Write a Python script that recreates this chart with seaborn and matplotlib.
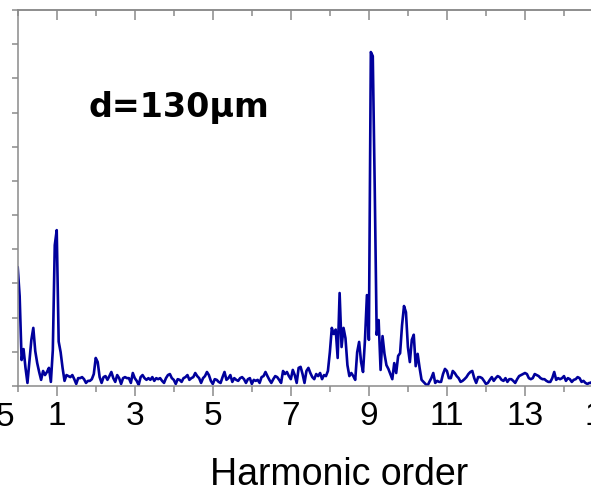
import numpy as np
import pandas as pd
import seaborn as sns
import matplotlib.pyplot as plt
from matplotlib.ticker import MultipleLocator

# data: harmonic spectrum, sampled every 0.05 harmonic order
harmonic = np.round(np.arange(301) * 0.05, 2)
intensity = [
    0.348, 0.263, 0.076, 0.108, 0.053, 0.009, 0.073, 0.135, 0.170, 0.102, 0.067, 0.041, 0.018, 0.044, 0.032, 0.041, 0.053, 0.012, 0.105, 0.412,
    0.456, 0.130, 0.099, 0.053, 0.015, 0.032, 0.029, 0.026, 0.032, 0.020, 0.006, 0.023, 0.023, 0.026, 0.020, 0.009, 0.015, 0.015, 0.020, 0.035,
    0.082, 0.070, 0.026, 0.009, 0.026, 0.029, 0.018, 0.029, 0.041, 0.023, 0.012, 0.032, 0.023, 0.006, 0.023, 0.026, 0.023, 0.023, 0.009, 0.038,
    0.023, 0.015, 0.003, 0.026, 0.032, 0.023, 0.018, 0.023, 0.018, 0.026, 0.015, 0.023, 0.020, 0.023, 0.015, 0.009, 0.023, 0.032, 0.035, 0.023,
    0.018, 0.006, 0.020, 0.018, 0.012, 0.023, 0.026, 0.032, 0.018, 0.023, 0.026, 0.038, 0.029, 0.023, 0.009, 0.023, 0.029, 0.041, 0.032, 0.015,
    0.006, 0.020, 0.018, 0.012, 0.009, 0.026, 0.041, 0.018, 0.023, 0.032, 0.012, 0.023, 0.018, 0.015, 0.023, 0.026, 0.020, 0.009, 0.020, 0.023,
    0.006, 0.018, 0.015, 0.018, 0.009, 0.026, 0.029, 0.041, 0.029, 0.018, 0.009, 0.020, 0.029, 0.026, 0.018, 0.009, 0.044, 0.035, 0.041, 0.029,
    0.020, 0.047, 0.032, 0.009, 0.053, 0.056, 0.035, 0.009, 0.044, 0.053, 0.038, 0.026, 0.020, 0.035, 0.029, 0.038, 0.020, 0.032, 0.029, 0.044,
    0.099, 0.170, 0.152, 0.165, 0.082, 0.272, 0.114, 0.170, 0.140, 0.061, 0.029, 0.038, 0.029, 0.018, 0.099, 0.129, 0.070, 0.041, 0.135, 0.266,
    0.135, 0.977, 0.965, 0.579, 0.150, 0.193, 0.047, 0.146, 0.094, 0.061, 0.050, 0.035, 0.020, 0.067, 0.038, 0.088, 0.096, 0.178, 0.234, 0.216,
    0.114, 0.070, 0.135, 0.150, 0.058, 0.094, 0.053, 0.018, 0.012, 0.006, 0.000, 0.012, 0.023, 0.038, 0.009, 0.015, 0.012, 0.012, 0.035, 0.050,
    0.044, 0.023, 0.023, 0.044, 0.038, 0.029, 0.023, 0.012, 0.015, 0.020, 0.026, 0.035, 0.041, 0.044, 0.023, 0.009, 0.026, 0.026, 0.023, 0.015,
    0.006, 0.009, 0.018, 0.026, 0.015, 0.023, 0.029, 0.026, 0.018, 0.015, 0.023, 0.012, 0.020, 0.020, 0.015, 0.009, 0.020, 0.029, 0.032, 0.035,
    0.038, 0.035, 0.023, 0.020, 0.023, 0.035, 0.032, 0.029, 0.023, 0.020, 0.020, 0.015, 0.012, 0.012, 0.023, 0.041, 0.018, 0.023, 0.020, 0.023,
    0.029, 0.015, 0.023, 0.020, 0.012, 0.018, 0.020, 0.026, 0.023, 0.012, 0.015, 0.009, 0.006, 0.009, 0.009, 0.018, 0.023, 0.015, 0.020, 0.012,
    0.018,
]
xticks = [1, 3, 5, 7, 9, 11, 13, 15]
label_text = "d=130μm"

df = pd.DataFrame({"harmonic": harmonic, "intensity": intensity})

sns.set_style("ticks")
plt.rcParams["font.family"] = ["Liberation Sans", "DejaVu Sans"]
plt.rcParams["text.color"] = "black"
plt.rcParams["xtick.labelcolor"] = "black"

fig = plt.figure(figsize=(5.91, 4.95), dpi=100)
# axes run past the right edge, like the cropped original
ax = fig.add_axes([17.7 / 591, 109 / 495, 585.3 / 591, 376 / 495])

sns.lineplot(data=df, x="harmonic", y="intensity", ax=ax, color="#00009c", lw=1.9)

ax.set_xlim(0, 15)
ax.set_ylim(0, 1.1)
ax.set_xticks(xticks)
ax.set_xticklabels([str(t) for t in xticks])
ax.xaxis.set_minor_locator(MultipleLocator(2))
ax.yaxis.set_major_locator(MultipleLocator(0.1))
ax.set_yticklabels([])

grey = "#8a8a8a"
for s in ax.spines.values():
    s.set_color(grey)
    s.set_linewidth(1.1)
ax.spines["right"].set_visible(False)

# bottom ticks outward, top ticks inward
ax.tick_params(axis="x", which="major", bottom=True, top=False, direction="out",
               length=7, width=1.1, color=grey, labelsize=24, pad=4,
               labelcolor="black")
ax.tick_params(axis="x", which="minor", bottom=True, top=False, direction="out",
               length=4, width=1.1, color=grey)
ax.tick_params(axis="y", which="major", left=True, direction="out",
               length=4, width=1.1, color=grey)

# top ticks drawn on a secondary axis so they can point inward
top = ax.secondary_xaxis("top")
top.set_xticks(xticks)
top.set_xticklabels([])
top.xaxis.set_minor_locator(MultipleLocator(2))
top.tick_params(which="major", direction="in", length=7, width=1.1, color=grey)
top.tick_params(which="minor", direction="in", length=4, width=1.1, color=grey)
top.spines["top"].set_color(grey)
top.spines["top"].set_linewidth(1.1)

ax.set_xlabel("")
ax.set_ylabel("")
fig.text(339 / 591, 1 - 485 / 495, "Harmonic order", ha="center", va="baseline",
         fontsize=27, color="black")

# cut-off tick label on the left edge
fig.text(14 / 591, 1 - 417 / 495, "5", ha="right", va="center", fontsize=24,
         color="black")

ax.text(88 / 591, 1 - 117 / 495, label_text, transform=fig.transFigure,
        ha="left", va="baseline", fontsize=24, fontweight="bold",
        color="black", family=["DejaVu Sans"])

fig.savefig("out.png", dpi=100)
